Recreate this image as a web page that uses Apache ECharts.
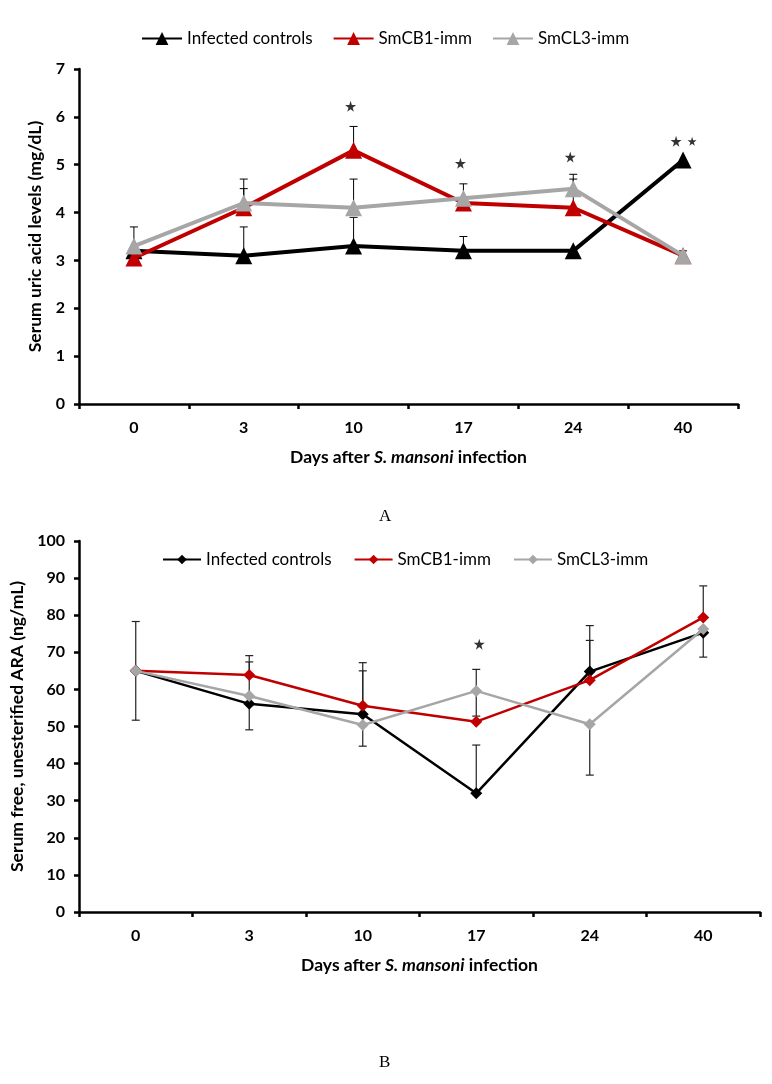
<!DOCTYPE html>
<html>
<head>
<meta charset="utf-8">
<script src="https://cdn.jsdelivr.net/npm/echarts@6/dist/echarts.min.js"></script>
<style>
html,body{margin:0;padding:0;background:#fff;}
#main{width:772px;height:1084px;}
</style>
</head>
<body>
<div id="main"></div>
<script>
// ---------- DATA ----------
var categories = ['0', '3', '10', '17', '24', '40'];
var seriesNames = ['Infected controls', 'SmCB1-imm', 'SmCL3-imm'];

// Panel A: serum uric acid (mg/dL)
var uricInfected = [3.2, 3.1, 3.3, 3.2, 3.2, 5.1];
var uricCB1      = [3.05, 4.1, 5.3, 4.2, 4.1, 3.1];
var uricCL3      = [3.3, 4.2, 4.1, 4.3, 4.5, 3.1];
var uricErrUpInfected = [null, 0.6, 0.6, 0.3, null, null];
var uricErrUpCB1      = [null, 0.4, 0.5, null, 0.6, 0.1];
var uricErrUpCL3      = [0.4, 0.5, 0.6, 0.3, 0.3, null];
var uricStars = [[2, 6.22], [3, 5.03], [4, 5.16]];
var uricStars40 = [[5, 5.49]];
var uricTicks = [0, 1, 2, 3, 4, 5, 6, 7];

// Panel B: serum free, unesterified ARA (ng/mL)
var araInfected = [65.0, 56.1, 53.3, 32.0, 64.8, 75.3];
var araCB1      = [65.0, 63.9, 55.6, 51.3, 62.5, 79.4];
var araCL3      = [65.0, 58.2, 50.4, 59.6, 50.6, 76.3];
var araErrUpInfected   = [13.3, null, 11.7, 13.0, 12.4, null];
var araErrDownInfected = [13.3, 7.0, null, null, null, 6.6];
var araErrUpCB1        = [null, 5.2, 11.6, null, 10.7, 8.5];
var araErrDownCB1      = [null, null, null, null, null, null];
var araErrUpCL3        = [null, 9.2, null, 5.8, null, null];
var araErrDownCL3      = [null, null, 5.7, 6.8, 13.7, null];
var araStars = [[3, 72.2]];
var araTicks = [0, 10, 20, 30, 40, 50, 60, 70, 80, 90, 100];

// ---------- HELPERS ----------
var RED = '#C00000', GRAY = '#A6A6A6', BLACK = '#000000';
var FONT = 'Lato, "Open Sans", sans-serif';

function buildErr(mean, up, down) {
  var out = [];
  for (var i = 0; i < mean.length; i++) {
    var u = up ? up[i] : null, d = down ? down[i] : null;
    if (u == null && d == null) continue;
    out.push([i, d == null ? mean[i] : mean[i] - d, u == null ? mean[i] : mean[i] + u, d == null ? 0 : 1, u == null ? 0 : 1]);
  }
  return out;
}

function errSeries(name, data, axisIdx, width, color) {
  return {
    type: 'custom', name: name + '-err', xAxisIndex: axisIdx, yAxisIndex: axisIdx,
    z: 1, silent: true,
    data: data,
    renderItem: function (params, api) {
      var x = api.value(0);
      var lo = api.coord([x, api.value(1)]);
      var hi = api.coord([x, api.value(2)]);
      var cw = 4;
      var st = { stroke: color, lineWidth: width };
      var ch = [{ type: 'line', shape: { x1: lo[0], y1: lo[1], x2: hi[0], y2: hi[1] }, style: st }];
      if (api.value(4)) ch.push({ type: 'line', shape: { x1: hi[0] - cw, y1: hi[1], x2: hi[0] + cw, y2: hi[1] }, style: st });
      if (api.value(3)) ch.push({ type: 'line', shape: { x1: lo[0] - cw, y1: lo[1], x2: lo[0] + cw, y2: lo[1] }, style: st });
      return { type: 'group', children: ch };
    }
  };
}

var STAR = 'path://M50,0 L61,35 L98,35 L68,57 L79,91 L50,70 L21,91 L32,57 L2,35 L39,35 Z';

function lineSeries(name, data, color, idx, symbol, size, width, z) {
  return {
    type: 'line', name: name, data: data, xAxisIndex: idx, yAxisIndex: idx,
    symbol: symbol, symbolSize: size, showAllSymbol: true,
    lineStyle: { color: color, width: width },
    itemStyle: { color: color, borderWidth: 0 },
    z: z, animation: false
  };
}

var axisLineStyle = { lineStyle: { color: '#000', width: 2.5 } };

function xAxis(idx) {
  return {
    type: 'category', gridIndex: idx, data: categories, boundaryGap: true,
    axisLine: axisLineStyle,
    axisTick: { show: true, alignWithLabel: false, length: 5, lineStyle: { color: '#000', width: 2.5 } },
    axisLabel: { color: '#000', fontFamily: FONT, fontWeight: 'bold', fontSize: 16, margin: 16 },
    splitLine: { show: false },
    name: '{n|Days after }{i|S. mansoni}{n| infection}',
    nameLocation: 'middle', nameGap: 44,
    nameTextStyle: {
      rich: {
        n: { fontFamily: FONT, fontWeight: 'bold', fontSize: 17.5, color: '#000' },
        i: { fontFamily: FONT, fontWeight: 'bold', fontStyle: 'italic', fontSize: 17.5, color: '#000' }
      }
    }
  };
}

function yAxis(idx, min, max, interval, name, gap) {
  return {
    type: 'value', gridIndex: idx, min: min, max: max, interval: interval,
    axisLine: { show: true, lineStyle: { color: '#000', width: 2.5 } },
    axisTick: { show: true, length: 5, lineStyle: { color: '#000', width: 2.5 } },
    axisLabel: { color: '#000', fontFamily: FONT, fontWeight: 'bold', fontSize: 16, margin: 14 },
    splitLine: { show: false },
    name: name, nameLocation: 'middle', nameGap: gap, nameRotate: 90,
    nameTextStyle: { fontFamily: FONT, fontWeight: 'bold', fontSize: 17.5, color: '#000' }
  };
}

var bNames = seriesNames.map(function (n) { return 'B\u00a0' + n; });

var option = {
  backgroundColor: '#fff',
  animation: false,
  grid: [
    { left: 79, top: 69, width: 659, height: 335 },
    { left: 79, top: 541, width: 681, height: 371 }
  ],
  legend: [
    {
      data: seriesNames, left: 136, top: 25, itemWidth: 40, itemHeight: 16, itemGap: 20,
      textStyle: { fontFamily: FONT, fontSize: 17, color: '#000' }
    },
    {
      data: bNames, left: 157, top: 546, itemWidth: 38, itemHeight: 12, itemGap: 22,
      formatter: function (n) { return n.replace('B\u00a0', ''); },
      textStyle: { fontFamily: FONT, fontSize: 17, color: '#000' }
    }
  ],
  xAxis: [xAxis(0), xAxis(1)],
  yAxis: [
    yAxis(0, uricTicks[0], uricTicks[uricTicks.length - 1], 1, 'Serum uric acid levels (mg/dL)', 34),
    yAxis(1, araTicks[0], araTicks[araTicks.length - 1], 10, 'Serum free, unesterified ARA (ng/mL)', 50)
  ],
  graphic: [
    { type: 'text', left: 379, top: 508, style: { text: 'A', fontFamily: '"Liberation Serif", serif', fontSize: 17, fill: '#000' } },
    { type: 'text', left: 379, top: 1054, style: { text: 'B', fontFamily: '"Liberation Serif", serif', fontSize: 17, fill: '#000' } }
  ],
  series: [
    errSeries('a1', buildErr(uricInfected, uricErrUpInfected, null), 0, 1, '#000'),
    errSeries('a2', buildErr(uricCB1, uricErrUpCB1, null), 0, 1, '#000'),
    errSeries('a3', buildErr(uricCL3, uricErrUpCL3, null), 0, 1, '#000'),
    lineSeries(seriesNames[0], uricInfected, BLACK, 0, 'triangle', 17, 4, 3),
    lineSeries(seriesNames[1], uricCB1, RED, 0, 'triangle', 17, 4, 4),
    lineSeries(seriesNames[2], uricCL3, GRAY, 0, 'triangle', 17, 4, 5),
    { type: 'scatter', name: 'starsA', xAxisIndex: 0, yAxisIndex: 0, data: uricStars, symbol: STAR, symbolSize: 11, symbolOffset: [-3, 0], itemStyle: { color: '#000' }, z: 6, silent: true },
    { type: 'scatter', name: 'starsA40a', xAxisIndex: 0, yAxisIndex: 0, data: uricStars40, symbol: STAR, symbolSize: 11, symbolOffset: [-7, 0], itemStyle: { color: '#000' }, z: 6, silent: true },
    { type: 'scatter', name: 'starsA40b', xAxisIndex: 0, yAxisIndex: 0, data: uricStars40, symbol: STAR, symbolSize: 9, symbolOffset: [9, 0], itemStyle: { color: '#000' }, z: 6, silent: true },

    errSeries('b1', buildErr(araInfected, araErrUpInfected, araErrDownInfected), 1, 1.2, '#222'),
    errSeries('b2', buildErr(araCB1, araErrUpCB1, araErrDownCB1), 1, 1.2, '#222'),
    errSeries('b3', buildErr(araCL3, araErrUpCL3, araErrDownCL3), 1, 1.2, '#222'),
    lineSeries(bNames[0], araInfected, BLACK, 1, 'diamond', 12, 2.5, 3),
    lineSeries(bNames[1], araCB1, RED, 1, 'diamond', 12, 2.5, 4),
    lineSeries(bNames[2], araCL3, GRAY, 1, 'diamond', 12, 2.5, 5),
    { type: 'scatter', name: 'starsB', xAxisIndex: 1, yAxisIndex: 1, data: araStars, symbol: STAR, symbolSize: 11, symbolOffset: [3, 0], itemStyle: { color: '#000' }, z: 6, silent: true }
  ]
};

var chart = echarts.init(document.getElementById('main'), null, { renderer: 'canvas' });
chart.setOption(option);
</script>
</body>
</html>
